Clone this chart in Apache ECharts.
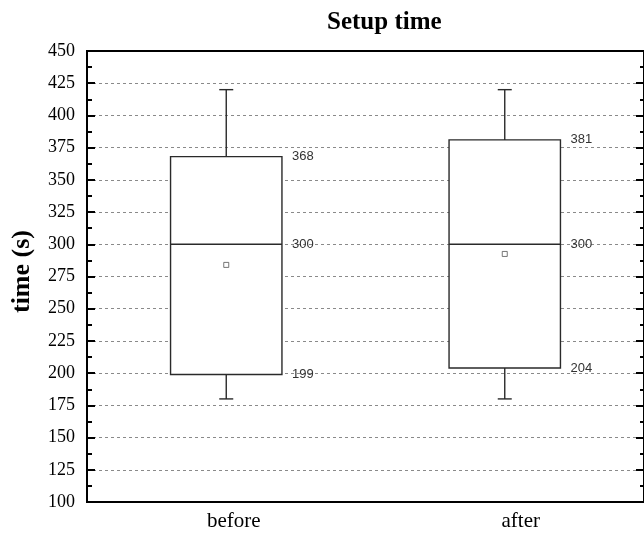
<!DOCTYPE html>
<html>
<head>
<meta charset="utf-8">
<script src="https://cdn.jsdelivr.net/npm/echarts@6/dist/echarts.min.js"></script>
<style>
  html, body { margin: 0; padding: 0; background: #fff; }
  #chart { width: 644px; height: 534px; }
</style>
</head>
<body>
<div id="chart"></div>
<script>
const categories = ["before", "after"];
const whiskerLow = [180, 180];
const q1 = [199, 204];
const median = [300, 300];
const q3 = [368, 381];
const whiskerHigh = [420, 420];
const means = [284, 292.5];

const yMin = 100;
const yMax = 450;
const yStep = 25;

const serif = "'Liberation Serif', 'Times New Roman', serif";
const sans = "'Liberation Sans', Arial, sans-serif";

// category labels sit a little right of the boxes in the original
const labelShift = { before: 15, after: 32 };

const boxData = categories.map((c, i) => [i, whiskerLow[i], q1[i], median[i], q3[i], whiskerHigh[i]]);
const meanData = categories.map((c, i) => [i, means[i]]);

const stroke = { stroke: "#2a2a2a", lineWidth: 1.4, fill: null };

function renderBox(params, api) {
  const x = api.value(0);
  const pLow = api.coord([x, api.value(1)]);
  const pQ1 = api.coord([x, api.value(2)]);
  const pMed = api.coord([x, api.value(3)]);
  const pQ3 = api.coord([x, api.value(4)]);
  const pHigh = api.coord([x, api.value(5)]);
  const band = api.size([1, 0])[0];
  const half = band * 0.2;
  const cap = 7;
  const cx = pMed[0];
  const line = (x1, y1, x2, y2) => ({
    type: "line",
    shape: { x1, y1, x2, y2 },
    style: stroke,
  });
  const label = (y, v) => ({
    type: "text",
    x: cx + half + 10,
    y: y,
    style: {
      text: String(v),
      font: "13px " + sans,
      fill: "#333",
      verticalAlign: "middle",
    },
  });
  return {
    type: "group",
    children: [
      {
        type: "rect",
        shape: { x: cx - half, y: pQ3[1], width: half * 2, height: pQ1[1] - pQ3[1] },
        style: { stroke: "#2a2a2a", lineWidth: 1.4, fill: "#fff" },
      },
      line(cx - half, pMed[1], cx + half, pMed[1]),
      line(cx, pQ3[1], cx, pHigh[1]),
      line(cx, pQ1[1], cx, pLow[1]),
      line(cx - cap, pHigh[1], cx + cap, pHigh[1]),
      line(cx - cap, pLow[1], cx + cap, pLow[1]),
      label(pQ3[1], api.value(4)),
      label(pMed[1], api.value(3)),
      label(pQ1[1], api.value(2)),
    ],
  };
}

const chart = echarts.init(document.getElementById("chart"));
chart.setOption({
  animation: false,
  backgroundColor: "#fff",
  title: {
    text: "Setup time",
    left: 322,
    top: 5,
    textStyle: { fontFamily: serif, fontSize: 25, fontWeight: "bold", color: "#000" },
  },
  grid: {
    left: 87,
    top: 51,
    width: 558,
    bottom: 32,
    show: true,
    borderColor: "#000",
    borderWidth: 2,
    backgroundColor: "transparent",
  },
  xAxis: {
    type: "category",
    data: categories,
    boundaryGap: true,
    axisLine: { lineStyle: { color: "#000", width: 2 } },
    axisTick: { show: false },
    axisLabel: {
      fontFamily: serif,
      fontSize: 21,
      color: "#000",
      margin: 9,
      formatter: (v) => "{" + v + "|" + v + "}",
      rich: {
        before: { fontFamily: serif, fontSize: 21, color: "#000", padding: [0, 0, 0, labelShift.before] },
        after: { fontFamily: serif, fontSize: 21, color: "#000", padding: [0, 0, 0, labelShift.after] },
      },
    },
    splitLine: { show: false },
  },
  yAxis: [
    {
      type: "value",
      min: yMin,
      max: yMax,
      interval: yStep,
      name: "time (s)",
      nameLocation: "middle",
      nameGap: 52,
      nameTextStyle: {
        fontFamily: serif,
        fontSize: 26,
        fontWeight: "bold",
        color: "#000",
        padding: [0, 0, 0, 10],
      },
      axisLine: { show: true, lineStyle: { color: "#000", width: 2 } },
      axisTick: { show: true, inside: true, length: 8, lineStyle: { color: "#000", width: 2 } },
      minorTick: { show: true, splitNumber: 2, length: 5, lineStyle: { color: "#000", width: 2 } },
      axisLabel: { fontFamily: serif, fontSize: 18, color: "#000", margin: 12 },
      splitLine: {
        show: true,
        lineStyle: { color: "#8a8a8a", width: 1, type: [3, 3] },
        showMinLine: false,
        showMaxLine: false,
      },
    },
    {
      type: "value",
      position: "right",
      min: yMin,
      max: yMax,
      interval: yStep,
      axisLine: { show: true, lineStyle: { color: "#000", width: 2 } },
      axisTick: { show: true, inside: true, length: 8, lineStyle: { color: "#000", width: 2 } },
      minorTick: { show: true, splitNumber: 2, length: 4, lineStyle: { color: "#000", width: 2 } },
      axisLabel: { show: false },
      splitLine: { show: false },
    },
  ],
  series: [
    {
      type: "custom",
      renderItem: renderBox,
      data: boxData,
      encode: { x: 0, y: [1, 2, 3, 4, 5] },
      z: 3,
    },
    {
      type: "scatter",
      data: meanData,
      symbol: "rect",
      symbolSize: 5,
      itemStyle: { color: "#fff", borderColor: "#555", borderWidth: 1 },
      z: 4,
    },
  ],
});
</script>
</body>
</html>
